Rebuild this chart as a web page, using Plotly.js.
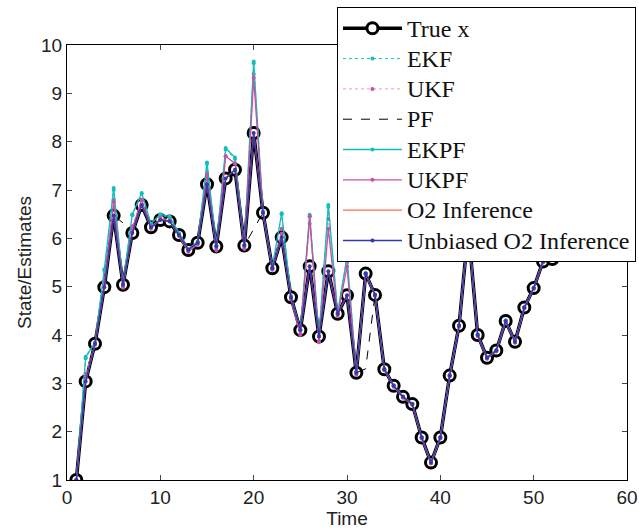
<!DOCTYPE html>
<html>
<head>
<meta charset="utf-8">
<script src="https://cdn.plot.ly/plotly-3.0.1.min.js"></script>
<style>
html,body{margin:0;padding:0;background:#fff;}
#chart{width:639px;height:531px;}
.legendtext{font-size:24px !important;}
</style>
</head>
<body>
<div id="chart"></div>
<script>
const time = [1,2,3,4,5,6,7,8,9,10,11,12,13,14,15,16,17,18,19,20,21,22,23,24,25,26,27,28,29,30,31,32,33,34,35,36,37,38,39,40,41,42,43,44,45,46,47,48,49,50,51,52,53,54,55,56,57,58,59,60];

const trueX = [1.0,3.04,3.82,4.99,6.47,5.04,6.11,6.69,6.23,6.38,6.35,6.07,5.76,5.91,7.12,5.83,7.24,7.42,5.85,8.18,6.53,5.38,6.02,4.78,4.10,5.42,3.97,5.32,4.44,4.82,3.22,5.27,4.83,3.29,2.95,2.72,2.57,1.88,1.36,1.88,3.16,4.19,6.20,4.00,3.53,3.68,4.29,3.86,4.57,4.97,5.52,5.57,6.30,7.00,6.80,6.40,5.69,6.20,6.60,6.90];

const ekf = [1.0,3.52,3.84,5.34,7.00,5.06,6.48,6.92,6.30,6.48,6.43,6.10,5.78,5.93,7.54,5.85,7.84,7.64,5.86,9.62,6.55,5.40,6.50,4.80,4.12,6.45,3.98,6.65,4.46,5.58,3.24,5.28,4.84,3.30,2.96,2.73,2.58,1.89,1.37,1.89,3.17,4.20,6.22,4.01,3.54,3.69,4.30,3.87,4.58,4.98,5.53,5.58,6.32,7.02,6.82,6.42,5.70,6.22,6.62,6.92];

const ukf = [1.0,3.20,3.82,5.10,6.80,5.00,6.25,6.80,6.24,6.42,6.38,6.07,5.74,5.90,7.35,5.78,7.70,7.55,5.80,9.40,6.54,5.36,6.20,4.76,4.02,6.30,3.88,6.40,4.42,5.50,3.20,5.26,4.82,3.28,2.94,2.71,2.56,1.87,1.35,1.87,3.15,4.18,6.18,3.99,3.52,3.67,4.28,3.85,4.56,4.96,5.51,5.56,6.28,6.98,6.78,6.38,5.68,6.18,6.58,6.88];

const pf = [1.0,3.04,3.82,4.99,6.47,6.32,6.11,6.69,6.23,6.38,6.35,6.07,5.76,5.91,7.12,5.83,7.24,7.42,5.85,6.20,6.53,5.38,6.02,4.78,4.10,5.42,3.97,5.32,4.44,4.82,3.22,3.30,4.83,3.29,2.95,2.72,2.57,1.88,1.36,1.88,3.16,4.19,6.20,4.00,3.53,3.68,4.29,3.86,4.57,4.97,5.52,5.57,6.30,7.00,6.80,6.40,5.69,6.20,6.60,6.90];

const ekpf = [1.0,3.55,3.84,5.36,7.04,5.06,6.50,6.94,6.30,6.50,6.45,6.10,5.78,5.93,7.57,5.85,7.87,7.67,5.86,9.66,6.55,5.40,6.52,4.80,4.12,6.49,3.98,6.69,4.46,5.62,3.24,5.28,4.84,3.30,2.96,2.73,2.58,1.89,1.37,1.89,3.17,4.20,6.22,4.01,3.54,3.69,4.30,3.87,4.58,4.98,5.53,5.58,6.32,7.02,6.82,6.42,5.70,6.22,6.62,6.92];

const ukpf = [1.0,3.10,3.80,5.05,6.75,4.98,6.20,6.80,6.20,6.40,6.36,6.05,5.72,5.88,7.30,5.75,7.70,7.55,5.78,9.32,6.52,5.35,6.10,4.74,4.00,6.45,3.85,6.20,4.40,5.42,3.18,5.25,4.81,3.27,2.93,2.70,2.55,1.86,1.34,1.86,3.14,4.17,6.18,3.98,3.51,3.66,4.27,3.84,4.55,4.95,5.50,5.55,6.28,6.98,6.78,6.38,5.67,6.18,6.58,6.88];

const o2 = [1.0,3.04,3.82,4.99,6.47,5.04,6.11,6.69,6.23,6.38,6.35,6.07,5.76,5.91,7.12,5.83,7.24,7.42,5.85,8.18,6.53,5.38,6.02,4.78,4.10,5.42,3.97,5.32,4.44,4.82,3.22,5.27,4.83,3.29,2.95,2.72,2.57,1.88,1.36,1.88,3.16,4.19,6.20,4.00,3.53,3.68,4.29,3.86,4.57,4.97,5.52,5.57,6.30,7.00,6.80,6.40,5.69,6.20,6.60,6.90];

const unbiasedO2 = [1.0,3.04,3.82,4.99,6.47,5.04,6.11,6.69,6.23,6.38,6.35,6.07,5.76,5.91,7.12,5.83,7.24,7.42,5.85,8.18,6.53,5.38,6.02,4.78,4.10,5.42,3.97,5.32,4.44,4.82,3.22,5.27,4.83,3.29,2.95,2.72,2.57,1.88,1.36,1.88,3.16,4.19,6.20,4.00,3.53,3.68,4.29,3.86,4.57,4.97,5.52,5.57,6.30,7.00,6.80,6.40,5.69,6.20,6.60,6.90];

const seriesNames = ["True x","EKF","UKF","PF","EKPF","UKPF","O2 Inference","Unbiased O2 Inference"];

const CYAN = "rgb(20,190,185)";
const MAG = "rgb(200,80,165)";
const ORANGE = "rgb(255,105,75)";
const BLUE = "rgb(55,55,175)";

const traces = [
  {x: time, y: trueX, name: seriesNames[0], mode: "lines+markers",
   line: {color: "black", width: 3.5},
   marker: {symbol: "circle", size: 11, color: "white", line: {color: "black", width: 3}}},
  {x: time, y: ekf, name: seriesNames[1], mode: "lines+markers",
   line: {color: CYAN, width: 1, dash: "dot"}, marker: {size: 4, color: CYAN}},
  {x: time, y: ukf, name: seriesNames[2], mode: "lines+markers",
   line: {color: "rgb(235,150,210)", width: 1, dash: "dot"}, marker: {size: 4, color: MAG}},
  {x: time, y: pf, name: seriesNames[3], mode: "lines",
   line: {color: "black", width: 1, dash: "dash"}},
  {x: time, y: ekpf, name: seriesNames[4], mode: "lines+markers",
   line: {color: CYAN, width: 1.3}, marker: {size: 4, color: CYAN}},
  {x: time, y: ukpf, name: seriesNames[5], mode: "lines+markers",
   line: {color: MAG, width: 1.3}, marker: {size: 4, color: MAG}},
  {x: time, y: o2, name: seriesNames[6], mode: "lines",
   line: {color: ORANGE, width: 1.3}},
  {x: time, y: unbiasedO2, name: seriesNames[7], mode: "lines+markers",
   line: {color: BLUE, width: 1.5}, marker: {size: 4, color: BLUE}}
];

const axisFont = {family: "Liberation Sans, Arial, sans-serif", size: 19, color: "#222"};

const layout = {
  width: 639, height: 531,
  margin: {l: 67, r: 12, t: 45, b: 51, autoexpand: false},
  paper_bgcolor: "white", plot_bgcolor: "white",
  showlegend: true,
  xaxis: {
    range: [0, 60], tickvals: [0,10,20,30,40,50,60], ticks: "inside", ticklen: 5,
    showline: true, mirror: "ticks", linecolor: "black", linewidth: 1,
    showgrid: false, zeroline: false, tickfont: axisFont,
    title: {text: "Time", font: axisFont, standoff: 0}
  },
  yaxis: {
    range: [1, 10], tickvals: [1,2,3,4,5,6,7,8,9,10], ticks: "inside", ticklen: 5,
    showline: true, mirror: "ticks", linecolor: "black", linewidth: 1,
    showgrid: false, zeroline: false, tickfont: axisFont,
    title: {text: "State/Estimates", font: axisFont, standoff: 4}
  },
  legend: {
    x: 1.016, xanchor: "right", y: 1.087, yanchor: "top",
    bgcolor: "white", bordercolor: "black", borderwidth: 1,
    font: {family: "Liberation Serif, Times New Roman, serif", size: 21, color: "#111"},
    itemwidth: 59
  }
};

Plotly.newPlot("chart", traces, layout, {displayModeBar: false, staticPlot: true});
</script>
</body>
</html>
